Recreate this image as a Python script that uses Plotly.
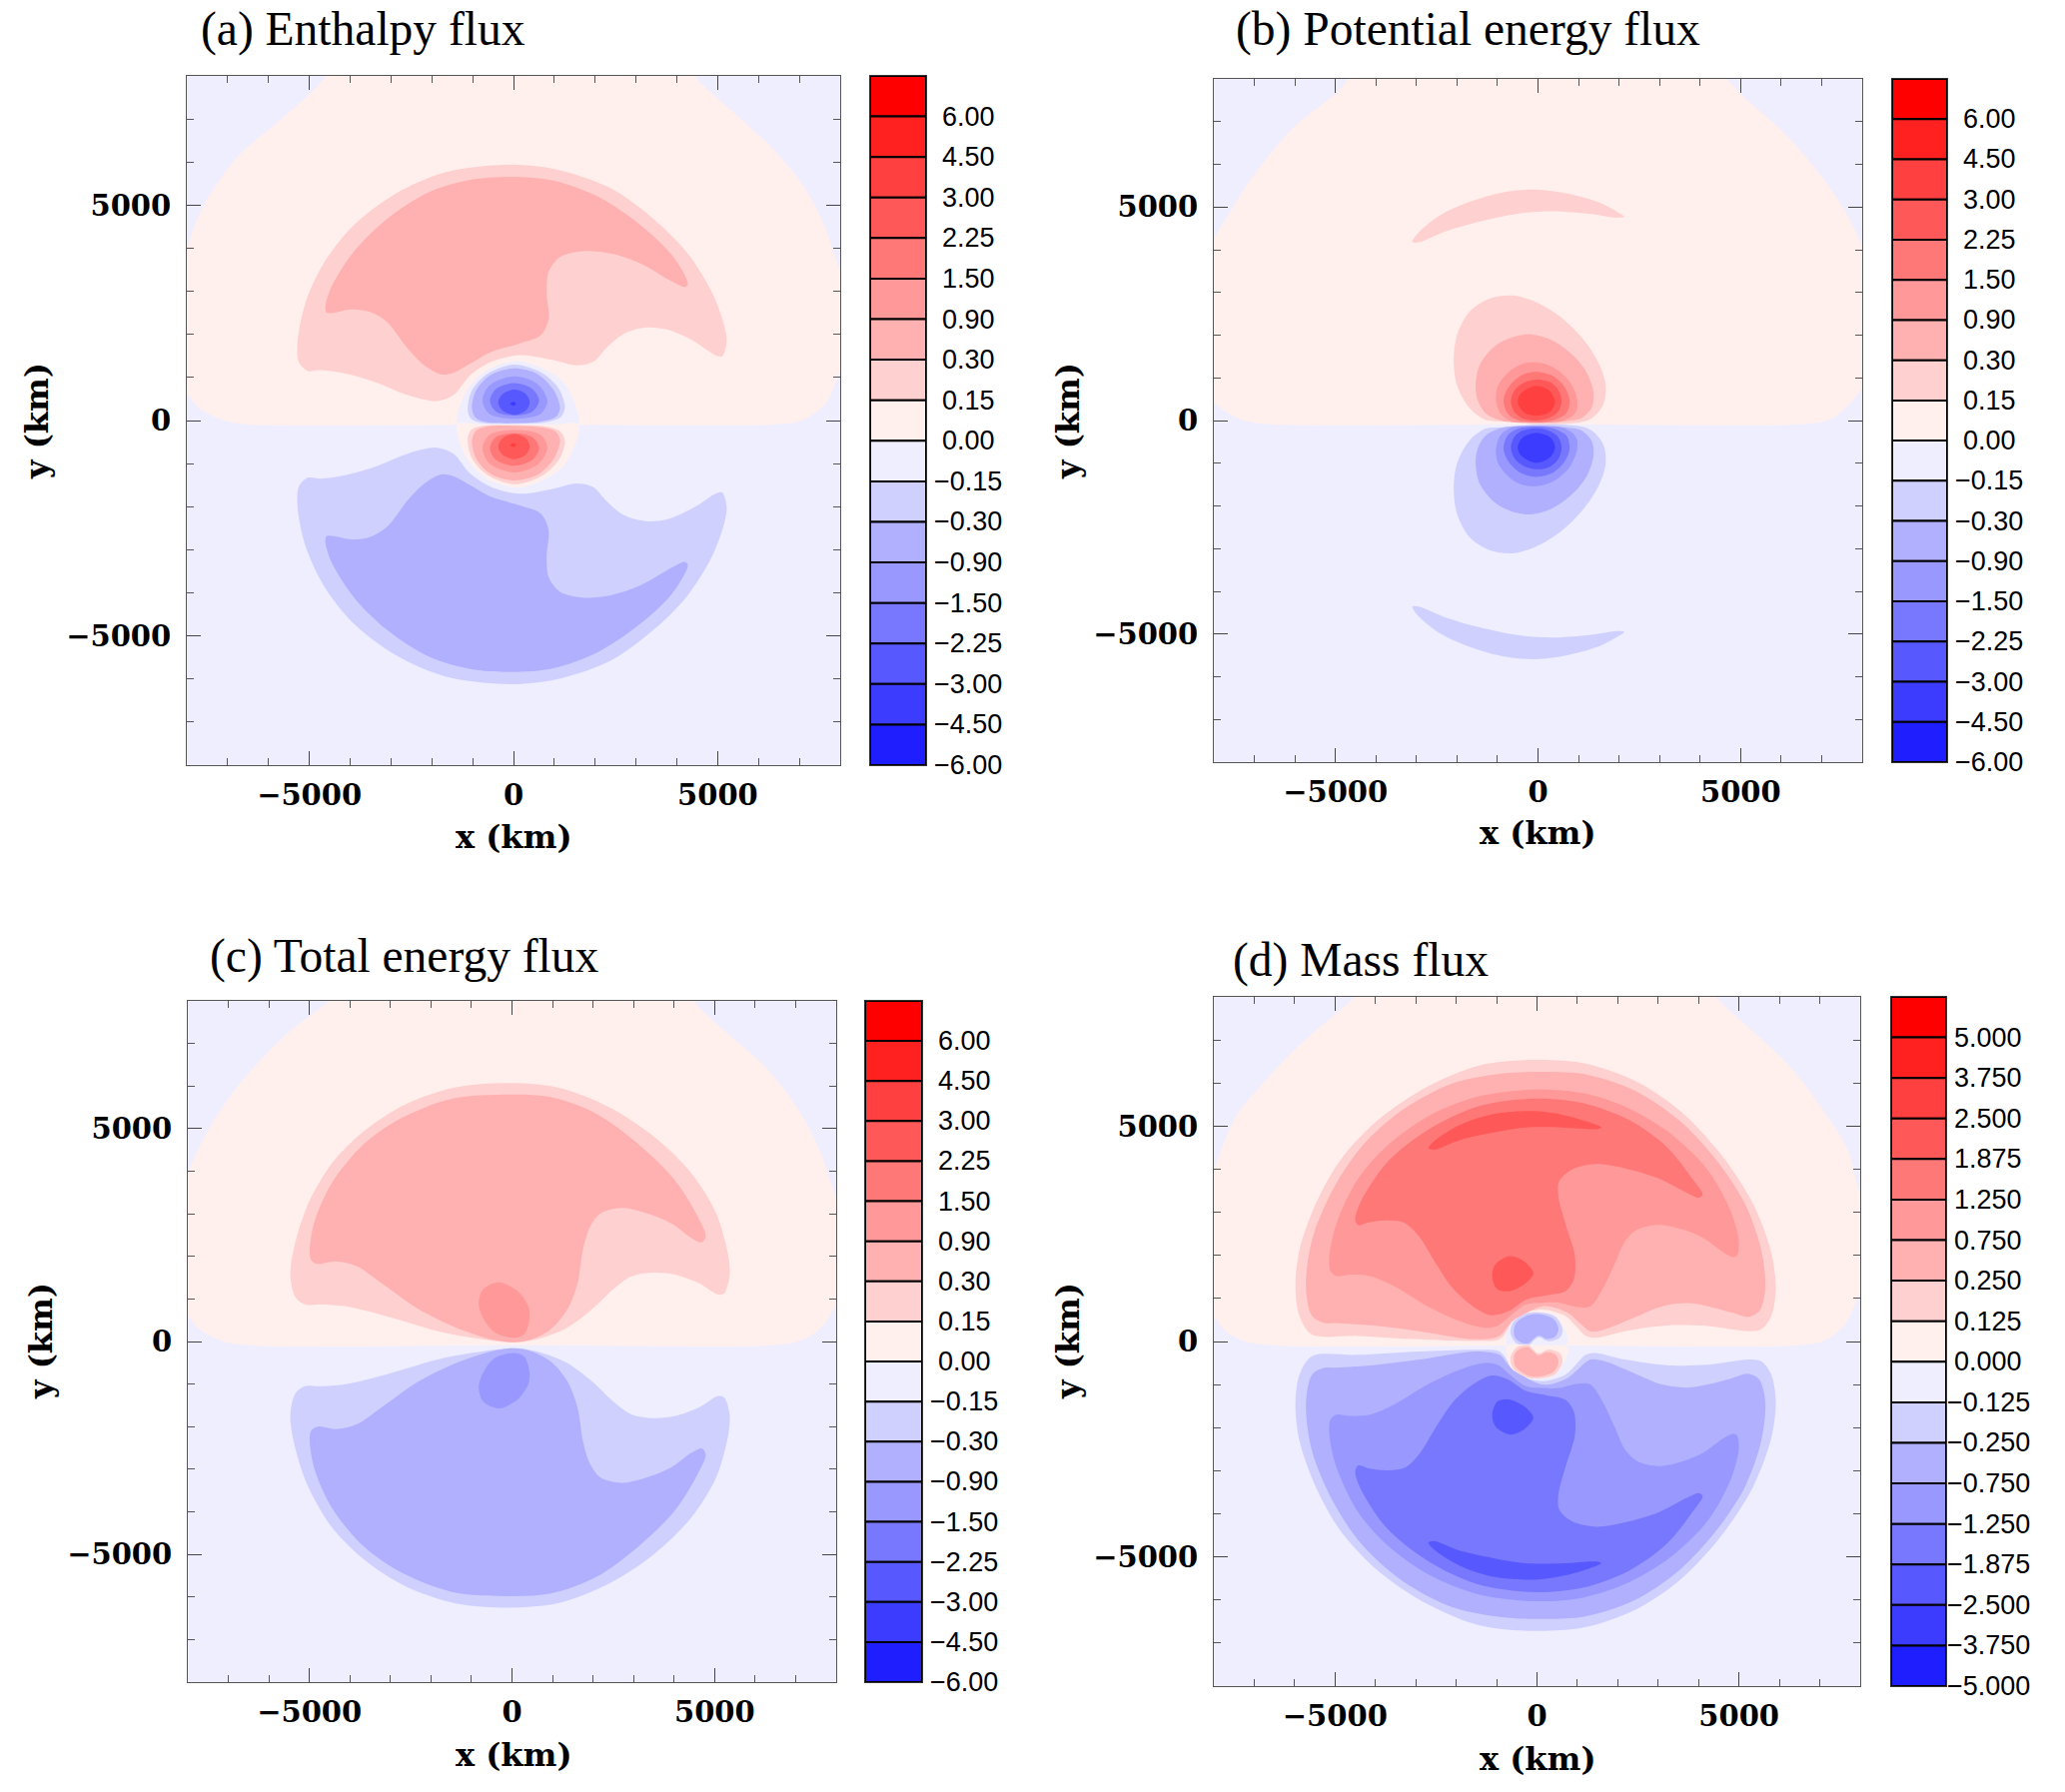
import plotly.graph_objects as go

W, H = 2067, 1794

# ---- colour bands, top (largest) to bottom (smallest) ----
REDS = ["#FFF0EE", "#FFD0D0", "#FFB0B0", "#FF9898", "#FF7878", "#FF5858", "#FF4040", "#FF2020", "#FF0000"]
BLUES = ["#EEEEFF", "#D0D0FF", "#B0B0FF", "#9898FF", "#7878FF", "#5858FF", "#3C3CFF", "#1E1EFF"]
ENERGY_LABELS = ["6.00", "4.50", "3.00", "2.25", "1.50", "0.90", "0.30", "0.15", "0.00",
                 "\u22120.15", "\u22120.30", "\u22120.90", "\u22121.50", "\u22122.25", "\u22123.00", "\u22124.50", "\u22126.00"]
MASS_LABELS = ["5.000", "3.750", "2.500", "1.875", "1.250", "0.750", "0.250", "0.125", "0.000",
               "\u22120.125", "\u22120.250", "\u22120.750", "\u22121.250", "\u22121.875", "\u22122.500", "\u22123.750", "\u22125.000"]
TITLES = ["(a) Enthalpy flux", "(b) Potential energy flux", "(c) Total energy flux", "(d) Mass flux"]
Y0 = -90  # the fields are antisymmetric about this line (km)

# ---- contour outlines, km (upper half) ----
# Panel a
DOME_A_X = [-8600,-8250,-8000,-7840,-7590,-7180,-6670,-5960,-4940,-4580,-4280,-3800,-3000,3000,3800,4200,4500,5260,6280,7100,7610,8000,8250,8500,8500,8250,8000,7610,7050,6400,0,-6500,-7080,-7690,-8000,-8300,-8600]
DOME_A_Y = [2300,3100,3950,4450,4990,5610,6220,6780,7630,8000,8280,8700,9000,9000,8700,8280,7920,7260,6380,5450,4530,3450,2800,2400,2100,1630,1130,360,0,-90,-90,-90,0,280,630,1050,1500]
A1_X = [-5040,-5260,-5290,-5090,-4630,-3920,-2900,-1670,-40,1180,2410,3430,4240,4860,5160,5220,5110,4960,4450,3840,3270,2710,2300,1950,1540,980,160,-550,-1060,-1470,-1880,-2590,-3410,-4120,-4730]
A1_Y = [1150,1360,1820,2750,3680,4530,5260,5760,5940,5800,5380,4680,3910,2980,2210,1820,1490,1510,1820,2090,2160,2020,1710,1360,1280,1400,1520,1360,1050,590,450,590,900,1090,1170]
A2_X = [-4610,-4480,-3920,-3100,-2080,-1060,-40,980,2100,3120,3890,4270,4190,3840,3120,2410,1690,1130,860,810,860,670,160,-550,-1060,-1470,-1770,-2180,-2590,-3100,-3510,-3970,-4420,-4570]
A2_Y = [2600,3060,3910,4680,5300,5590,5660,5570,5180,4530,3830,3170,3100,3250,3640,3870,3930,3790,3450,2980,2360,1980,1790,1590,1320,1110,1070,1280,1670,2290,2520,2580,2500,2500]
AN0_X = [-1370,-1160,-650,110,780,1280,1590,1000,0,-800]
AN0_Y = [-90,670,1170,1380,1170,820,-90,-90,-90,-90]
AN1_X = [-1120,-1040,-675,16,707,1114,1260,1154,830,16,-797,-1040]
AN1_Y = [233,656,1060,1300,1100,733,310,79,-36,-75,-51,41]
AN2_X = [-1016,-919,-553,16,585,992,1138,1033,667,16,-675,-919]
AN2_Y = [271,694,1060,1210,1080,694,271,79,-21,-60,-36,56]
AN3_X = [-756,-593,16,585,829,667,16,-593]
AN3_Y = [464,810,1025,848,464,156,41,156]
AN4_X = [-577,-431,16,463,626,463,16,-431]
AN4_Y = [464,733,871,733,464,210,118,210]
AN5_X = [-374,-268,16,301,398,301,16,-268]
AN5_Y = [425,617,717,617,425,233,133,233]
AN6_X = [-81,0,65,0]
AN6_Y = [387,433,387,341]

# Panel b
DOME_B_X = [-8600,-8250,-7970,-7610,-6900,-5980,-5010,-4750,-4450,-3900,-3000,3000,3900,4450,4780,5040,6060,6980,7590,7980,8250,8600,8600,8250,7980,7590,7180,6500,0,-6600,-7300,-7710,-7970,-8300,-8600]
DOME_B_Y = [3000,3800,4300,4880,5900,6910,7650,7920,8280,8700,9000,9000,8700,8200,7880,7610,6750,5740,4880,4140,3500,2800,1500,1050,720,290,10,-90,-90,-90,10,210,400,650,1000]
B_ARC_X = [-3100,-2970,-2410,-1690,-880,-60,750,1470,1930,2130,1930,1370,350,-470,-1490,-2310,-2920]
B_ARC_Y = [4180,4380,4810,5120,5340,5410,5310,5120,4900,4770,4750,4830,4900,4850,4650,4420,4180]
B1_X = [-2080,-2000,-1690,-1180,-650,-60,550,1160,1520,1670,1620,1420,1160,100,-880,-1290,-1690,-2000]
B1_Y = [1420,2000,2550,2860,2930,2780,2430,1850,1300,830,400,130,-20,-90,-20,10,290,830]
B2_X = [-1540,-1440,-1080,-670,-180,350,860,1210,1370,1320,1060,650,-160,-880,-1290,-1490]
B2_Y = [830,1300,1730,1940,2020,1880,1530,1110,640,290,50,-20,-50,-10,170,480]
B3_X = [-1040,-980,-670,-370,-60,350,750,960,940,650,-60,-670,-930]
B3_Y = [520,830,1180,1330,1360,1260,950,520,210,0,-50,-10,170]
B4_X = [-850,-720,-420,-60,350,650,780,700,350,-60,-520,-750]
B4_Y = [480,790,1050,1140,1050,790,480,170,0,-40,20,170]
B5_X = [-670,-570,-320,-10,300,500,580,500,240,-60,-420,-590]
B5_Y = [460,720,900,960,900,720,460,210,50,0,70,210]
B6_X = [-500,-420,-40,300,420,300,-40,-370]
B6_Y = [440,640,810,680,440,210,110,210]

# Panel c
DOME_C_X = [-8600,-8250,-7970,-7410,-6690,-5570,-4570,-4280,-3800,-3000,3000,3800,4250,4550,5240,6260,7080,7590,7980,8250,8600,8600,8250,7980,7590,7080,6400,0,-6500,-7150,-7710,-7970,-8300,-8600]
DOME_C_Y = [2400,3200,4030,5120,6090,7220,7960,8280,8700,9000,9000,8700,8280,7920,7300,6440,5430,4500,3400,2600,2000,1700,1300,830,290,10,-90,-90,-90,10,290,560,950,1400]
C1_X = [-5110,-5340,-5470,-5390,-5060,-4450,-3630,-2610,-1390,-60,1160,2390,3510,4430,5040,5340,5370,5240,5090,4630,4020,3510,2950,2490,1980,1370,750,140,-470,-1690,-3120,-4140,-4750]
C1_Y = [870,1030,1530,2160,3170,4180,4960,5580,5970,6070,5960,5510,4810,3950,3010,2000,1530,1140,1100,1360,1570,1620,1530,1220,760,330,90,-20,20,210,600,830,870]
C2_X = [-4800,-4960,-4990,-4860,-4450,-3730,-2820,-1490,-60,960,2080,3100,4020,4580,4780,4680,4430,3920,3200,2690,2180,1930,1750,1620,1370,960,450,40,-470,-1390,-2310,-3120,-3840,-4350]
C2_Y = [1820,1920,2200,2860,3720,4570,5200,5700,5800,5740,5350,4650,3790,2940,2470,2330,2430,2780,3050,3140,3010,2700,2160,1380,760,290,40,-20,40,330,760,1300,1770,1880]
C3_X = [-820,-720,-320,140,400,430,300,40,-420,-670]
C3_Y = [870,1220,1390,1180,830,520,170,90,210,480]

# Panel d
DOME_D_X = [-8600,-8250,-8020,-7760,-7410,-6790,-5980,-4960,-4600,-4280,-3800,-3000,3000,3800,4200,4510,5240,6260,7080,7690,7980,8250,8600,8600,8250,8000,7590,7080,6400,0,-6500,-7250,-7710,-8000,-8300,-8600]
DOME_D_Y = [2400,3200,3910,4600,5300,5990,6800,7630,7920,8280,8700,9000,9000,8700,8280,7920,7290,6380,5380,4450,3450,2700,2200,1900,1600,1130,360,10,-90,-90,-90,10,240,590,1000,1400]
D1_X = [-5570,-5880,-5980,-5880,-5470,-4860,-3940,-2710,-1390,-60,1160,2390,3510,4530,5340,5800,5910,5800,5550,5240,4220,3200,2180,1470,1210,960,700,140,-470,-720,-930,-1490,-2920,-4450]
D1_Y = [160,590,1280,2130,3210,4220,5140,5920,6420,6540,6460,6070,5380,4370,3210,2060,1210,590,280,240,360,370,240,90,130,360,590,740,590,280,50,10,50,130]
D2_X = [-5260,-5570,-5720,-5570,-5060,-4340,-3330,-2100,-880,-60,1160,2390,3510,4430,5140,5550,5650,5500,5220,4830,4220,3730,3100,2390,1670,1320,1010,750,140,-670,-930,-1490,-2920,-3940,-5000]
D2_Y = [430,590,1280,2360,3520,4530,5380,5990,6220,6260,6210,5840,5140,4220,3210,2130,1210,700,570,670,820,890,820,550,280,240,470,670,820,400,130,50,240,360,430]
D3_X = [-4960,-5110,-5140,-4960,-4450,-3730,-2710,-1490,-60,1160,2280,3300,4220,4780,4990,4960,4860,4630,4120,3610,3000,2490,2180,1930,1620,1320,1010,550,140,-270,-670,-980,-1290,-1900,-2710,-3530,-4140,-4650]
D3_Y = [1520,1630,1980,2750,3750,4530,5220,5680,5850,5760,5410,4830,3990,3060,2360,2020,1960,2060,2400,2600,2710,2600,2330,1820,1210,820,800,900,900,860,590,360,320,470,820,1280,1520,1550]
D4_X = [-4430,-4500,-4380,-3730,-2710,-1490,-60,1160,2280,3200,3870,4100,4000,3710,3000,2180,1470,860,550,530,700,940,910,700,240,-270,-720,-1130,-1590,-2100,-2510,-2920,-3270,-3660,-4140]
D4_Y = [2700,2830,3210,4140,4910,5450,5640,5530,5140,4530,3750,3410,3340,3450,3790,4020,4120,3990,3720,3370,2750,1980,1440,1170,1070,970,700,610,820,1250,1820,2440,2750,2810,2770]
D5A_X = [-2690,-2510,-1900,-1080,-60,650,1260,1590,1470,650,-270,-1080,-1900,-2560]
D5A_Y = [4490,4680,5030,5280,5350,5260,5100,4970,4930,4970,4970,4850,4680,4450]
D5B_X = [-1110,-1030,-670,-320,-90,-270,-670,-980]
D5B_Y = [1520,1790,1980,1860,1590,1360,1170,1210]
DN0_X = [-740,-660,-370,-40,370,610,760,0]
DN0_Y = [-70,410,600,677,623,410,-40,-80]
DN1_X = [-656,-590,-246,41,451,631,574,287,41,-82,-205,-492]
DN1_Y = [192,446,654,677,577,292,100,7,100,22,-93,-55]
DN2_X = [-574,-533,-246,41,410,533,451,246,41,-82,-205,-410,-549]
DN2_Y = [215,408,600,638,523,292,115,61,138,61,-39,-16,100]

# (band index, sign of the upper-half value, x, y), painted in this order
PANEL_A = [(0,1,DOME_A_X,DOME_A_Y),(1,1,A1_X,A1_Y),(2,1,A2_X,A2_Y),(0,-1,AN0_X,AN0_Y),(1,-1,AN1_X,AN1_Y),
           (2,-1,AN2_X,AN2_Y),(3,-1,AN3_X,AN3_Y),(4,-1,AN4_X,AN4_Y),(5,-1,AN5_X,AN5_Y),(6,-1,AN6_X,AN6_Y)]
PANEL_B = [(0,1,DOME_B_X,DOME_B_Y),(1,1,B_ARC_X,B_ARC_Y),(1,1,B1_X,B1_Y),(2,1,B2_X,B2_Y),(3,1,B3_X,B3_Y),
           (4,1,B4_X,B4_Y),(5,1,B5_X,B5_Y),(6,1,B6_X,B6_Y)]
PANEL_C = [(0,1,DOME_C_X,DOME_C_Y),(1,1,C1_X,C1_Y),(2,1,C2_X,C2_Y),(3,1,C3_X,C3_Y)]
PANEL_D = [(0,1,DOME_D_X,DOME_D_Y),(1,1,D1_X,D1_Y),(2,1,D2_X,D2_Y),(3,1,D3_X,D3_Y),(4,1,D4_X,D4_Y),
           (5,1,D5A_X,D5A_Y),(5,1,D5B_X,D5B_Y),(0,-1,DN0_X,DN0_Y),(1,-1,DN1_X,DN1_Y),(2,-1,DN2_X,DN2_Y)]

# ---- page layout in pixels: plot x0,x1,y0,y1, colourbar x0,x1, title x,y, x-title x,y, y-title x,y ----
BOXES = [
    (187, 841, 76, 766, 871, 927, 199, 30, 514, 838, 37, 422),
    (1215, 1864, 79, 763, 1894, 1949, 1235, 30, 1539, 834, 1069, 422),
    (188, 837, 1002, 1684, 866, 923, 208, 957, 514, 1757, 41, 1343),
    (1215, 1862, 998, 1688, 1893, 1948, 1232, 961, 1539, 1761, 1069, 1343),
]
PANELS = [PANEL_A, PANEL_B, PANEL_C, PANEL_D]
LABELS = [ENERGY_LABELS, ENERGY_LABELS, ENERGY_LABELS, MASS_LABELS]
TICK_FONT = dict(family="DejaVu Serif", size=29, color="black", weight=700)
AXIS_TITLE_FONT = dict(family="DejaVu Serif", size=32, color="black", weight=700)
BAND_TOP_DOWN = REDS[::-1] + BLUES

fig = go.Figure()
annotations = []
layout_axes = {}

def color(k, sign):
    return REDS[k] if sign > 0 else BLUES[k]

def closed(v):
    return list(v) + [v[0]]

for i, (box, polys, labels, title) in enumerate(zip(BOXES, PANELS, LABELS, TITLES)):
    x0, x1, y0, y1, cx0, cx1, tx, ty, xtx, xty, ytx, yty = box
    ax, cb = 2 * i + 1, 2 * i + 2
    for k, sign, px, py in polys:
        fig.add_trace(go.Scatter(x=closed(px), y=closed(py), xaxis=f"x{ax}", yaxis=f"y{ax}", mode="lines", fill="toself",
                                 fillcolor=color(k, sign), line=dict(width=0, shape="spline", smoothing=0.9),
                                 hoverinfo="skip", showlegend=False))
    for k, sign, px, py in polys:
        if k == 0 and sign > 0:
            continue  # lower half of the dome is the background colour
        my = [2 * Y0 - v for v in py]
        fig.add_trace(go.Scatter(x=closed(px), y=closed(my), xaxis=f"x{ax}", yaxis=f"y{ax}", mode="lines", fill="toself",
                                 fillcolor=color(k, -sign), line=dict(width=0, shape="spline", smoothing=0.9),
                                 hoverinfo="skip", showlegend=False))
    # colour bar
    fig.add_trace(go.Bar(x=["band"] * 17, y=[1] * 17, base=list(range(16, -1, -1)), width=1,
                         marker=dict(color=BAND_TOP_DOWN, line=dict(color="black", width=2)),
                         xaxis=f"x{cb}", yaxis=f"y{cb}", hoverinfo="skip", showlegend=False))
    common = dict(range=[-8000, 8000], tickvals=[-5000, 0, 5000], ticks="inside", ticklen=14, tickwidth=1,
                  tickcolor="#444", showline=True, linecolor="#555", linewidth=1, mirror="ticks", showgrid=False,
                  zeroline=False, tickfont=TICK_FONT,
                  minor=dict(dtick=1000, tick0=0, ticks="inside", ticklen=7, tickwidth=1, tickcolor="#555", showgrid=False))
    layout_axes[f"xaxis{ax}"] = dict(common, domain=[x0 / W, x1 / W], anchor=f"y{ax}", ticklabelstandoff=4)
    layout_axes[f"yaxis{ax}"] = dict(common, domain=[1 - y1 / H, 1 - y0 / H], anchor=f"x{ax}", ticklabelstandoff=9)
    layout_axes[f"xaxis{cb}"] = dict(domain=[cx0 / W, cx1 / W], anchor=f"y{cb}", showticklabels=False, ticks="", showgrid=False,
                                     zeroline=False, showline=True, mirror=True, linecolor="#333", linewidth=1)
    layout_axes[f"yaxis{cb}"] = dict(domain=[1 - y1 / H, 1 - y0 / H], anchor=f"x{cb}", range=[0, 17], showticklabels=False, ticks="",
                                     showgrid=False, zeroline=False, showline=True, mirror=True, linecolor="#333", linewidth=1)
    for j, lab in enumerate(labels):
        annotations.append(dict(text=lab, x=(cx1 + 42) / W, xref="paper", xanchor="center", y=16 - j, yref=f"y{cb}", yanchor="middle",
                                showarrow=False, font=dict(family="Liberation Sans", size=27, color="black")))
    annotations.append(dict(text=title, x=tx / W, y=1 - ty / H, xref="paper", yref="paper", xanchor="left", yanchor="middle",
                            showarrow=False, font=dict(family="Liberation Serif", size=47.5, color="black")))
    annotations.append(dict(text="x (km)", x=xtx / W, y=1 - xty / H, xref="paper", yref="paper", xanchor="center", yanchor="middle",
                            showarrow=False, font=AXIS_TITLE_FONT))
    annotations.append(dict(text="y (km)", x=ytx / W, y=1 - yty / H, xref="paper", yref="paper", xanchor="center", yanchor="middle",
                            textangle=-90, showarrow=False, font=AXIS_TITLE_FONT))

fig.update_layout(width=W, height=H, margin=dict(l=0, r=0, t=0, b=0), paper_bgcolor="white", plot_bgcolor="#EEEEFF",
                  barmode="overlay", annotations=annotations, showlegend=False, **layout_axes)
fig.write_html("out.html", config=dict(displayModeBar=False), post_script="document.body.style.margin='0';")
